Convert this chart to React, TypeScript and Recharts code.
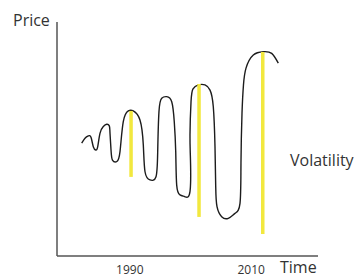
import React from "react";
import { ComposedChart, Line, XAxis, YAxis, ReferenceLine } from "recharts";

// Hand-drawn price path (year, price)
const pathYears = [
  1982.07, 1982.61, 1983.16, 1983.6, 1983.98, 1984.38, 1984.71, 1985.08, 1985.63, 1986.19,
  1986.62, 1986.73, 1986.9, 1987.14, 1987.84, 1988.38, 1988.92, 1989.75, 1990.57, 1991.67,
  1992.22, 1992.5, 1993.32, 1994.31, 1994.59, 1994.8, 1995.25, 1996.07, 1996.9, 1997.32,
  1997.56, 1997.72, 1998.26, 1999.09, 1999.91, 1999.99, 1999.91, 2000.08, 2000.41, 2001.28,
  2002.38, 2003.21, 2003.75, 2004.03, 2004.15, 2004.36, 2005.13, 2006.22, 2007.32, 2008.15,
  2008.31, 2008.48, 2008.72, 2009.14, 2010.34, 2011.99, 2013.37, 2014.46,
];
const pathPrices = [
  48.2, 50.3, 51.3, 50.7, 46.7, 45.3, 46.7, 52.4, 55.3, 56.3,
  55.6, 52.6, 45.3, 41.0, 40.3, 44.6, 57.4, 62.0, 62.0, 58.1,
  47.4, 36.0, 32.5, 33.9, 44.6, 61.7, 67.4, 68.1, 65.9, 57.4,
  44.6, 30.3, 26.1, 25.3, 27.5, 41.0, 51.7, 65.9, 71.4, 73.1,
  73.1, 70.9, 63.8, 46.7, 29.6, 21.1, 16.8, 16.1, 18.2, 22.5,
  39.6, 61.0, 73.1, 80.3, 85.9, 87.3, 86.6, 82.4,
];

// Volatility bars (yellow vertical segments)
const volYears = [1990.2, 2001.4, 2011.9];
const volTop = [62.0, 73.5, 87.2];
const volBottom = [33.8, 16.7, 9.4];

// Tick labels
const tickYears = [1990, 2010];

const data = pathYears.map((year, i) => ({ year, price: pathPrices[i] }));

const FONT = "'Open Sans', 'Noto Sans', sans-serif";
const TEXT = "#333333";
const AXIS = "#555555";

const YearTick = (props: any) => {
  const { x, y, payload } = props;
  return (
    <text x={x} y={y + 9.5} textAnchor="middle" fontFamily={FONT} fontSize={12} fill={TEXT}>
      {payload.value}
    </text>
  );
};

export default function App() {
  return (
    <div style={{ position: "absolute", left: 0, top: 0, width: 356, height: 277, background: "#fff" }}>
      <ComposedChart
        width={356}
        height={277}
        data={data}
        margin={{ top: 22, right: 38, bottom: 0, left: 56 }}
      >
        <XAxis
          dataKey="year"
          type="number"
          domain={[1978, 2021]}
          ticks={tickYears}
          tick={<YearTick />}
          tickLine={false}
          axisLine={{ stroke: AXIS, strokeWidth: 1.5 }}
          height={21}
          allowDataOverflow
        />
        <YAxis
          type="number"
          domain={[0, 100]}
          width={1}
          tick={false}
          tickLine={false}
          axisLine={{ stroke: AXIS, strokeWidth: 1.5 }}
          allowDataOverflow
        />
        <Line
          dataKey="price"
          type="natural"
          stroke="#1c1c1c"
          strokeWidth={1.4}
          dot={false}
          activeDot={false}
          isAnimationActive={false}
        />
        {volYears.map((yr, i) => (
          <ReferenceLine
            key={i}
            segment={[
              { x: yr, y: volTop[i] },
              { x: yr, y: volBottom[i] },
            ]}
            stroke="#f2e83e"
            strokeWidth={3.5}
            ifOverflow="visible"
          />
        ))}
      </ComposedChart>
      <svg
        width={356}
        height={277}
        style={{ position: "absolute", left: 0, top: 0, pointerEvents: "none" }}
      >
        <text x={13} y={25.5} fontFamily={FONT} fontSize={16} fill={TEXT}>Price</text>
        <text x={290} y={166} fontFamily={FONT} fontSize={16} fill={TEXT}>Volatility</text>
        <text x={280} y={272.5} fontFamily={FONT} fontSize={16} fill={TEXT}>Time</text>
      </svg>
    </div>
  );
}
